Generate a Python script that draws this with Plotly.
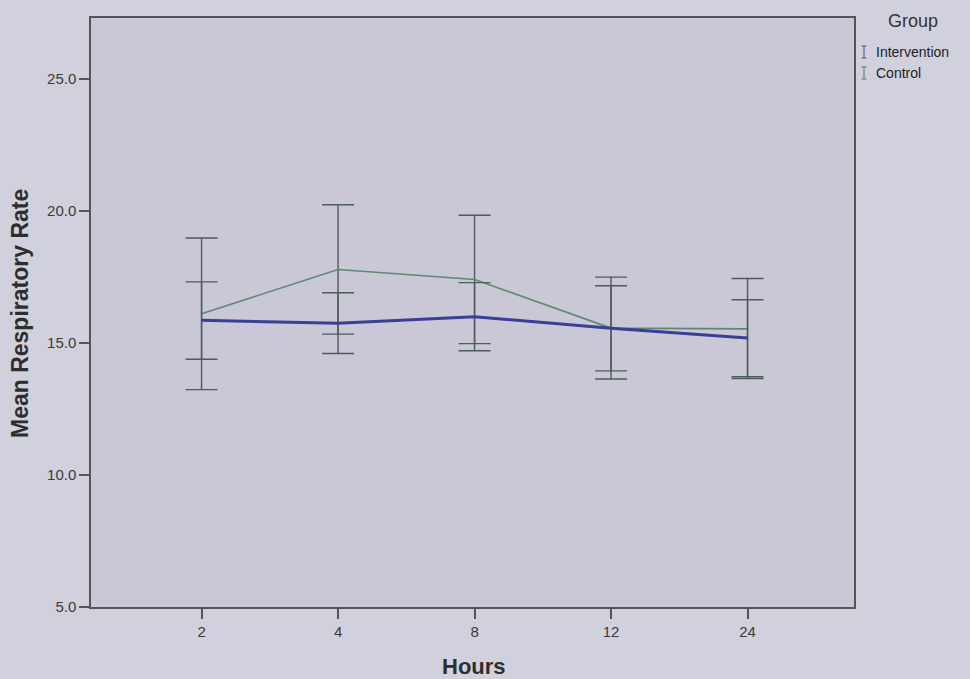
import plotly.graph_objects as go

hours = ["2", "4", "8", "12", "24"]
intervention_mean = [15.86, 15.74, 15.99, 15.55, 15.18]
intervention_upper = [17.31, 16.90, 17.28, 17.16, 16.63]
intervention_lower = [14.38, 14.60, 14.70, 13.94, 13.72]
control_mean = [16.10, 17.78, 17.40, 15.56, 15.53]
control_upper = [18.97, 20.23, 19.83, 17.49, 17.44]
control_lower = [13.23, 15.33, 14.97, 13.63, 13.65]
y_ticks = [5.0, 10.0, 15.0, 20.0, 25.0]

xpos = list(range(len(hours)))
err_color = "#4c5c58"

W, H = 970, 679
ML, MR, MT, MB = 91, 116, 18, 72

fig = go.Figure()

def add_series(name, mean, upper, lower, color, width):
    fig.add_trace(go.Scatter(
        x=xpos, y=mean, mode="lines", name=name,
        line=dict(color=color, width=width),
        error_y=dict(type="data", symmetric=False,
                     array=[u - m for u, m in zip(upper, mean)],
                     arrayminus=[m - l for m, l in zip(mean, lower)],
                     color=err_color, thickness=1.4, width=16),
        showlegend=False,
    ))

add_series("Control", control_mean, control_upper, control_lower, "#5f8872", 1.6)
add_series("Intervention", intervention_mean, intervention_upper, intervention_lower, "#3b3e96", 3)

font_family = "Liberation Sans, Arial, sans-serif"

fig.update_layout(
    width=W, height=H,
    margin=dict(l=ML, r=MR, t=MT, b=MB),
    paper_bgcolor="#d0d1dd",
    plot_bgcolor="#cac7d7",
    font=dict(family=font_family, color="#333333", size=15),
    xaxis=dict(
        range=[-0.81, 4.78], tickmode="array", tickvals=xpos, ticktext=hours,
        showgrid=False, zeroline=False, showline=True, mirror=True,
        linecolor="#555555", linewidth=1.5, automargin=False,
        ticks="outside", ticklen=10, tickcolor="#555555", tickwidth=1.5,
        tickfont=dict(size=15, color="#3a3a3a"),
    ),
    yaxis=dict(
        range=[5.0, 27.3], tickmode="array", tickvals=y_ticks,
        ticktext=[f"{v:.1f}" for v in y_ticks],
        showgrid=False, zeroline=False, showline=True, mirror=True,
        linecolor="#555555", linewidth=1.5, automargin=False,
        ticks="outside", ticklen=10, tickcolor="#555555", tickwidth=1.5,
        tickfont=dict(size=15, color="#3a3a3a"),
    ),
)

def px_to_paper_x(px):
    return (px - ML) / (W - ML - MR)

def px_to_paper_y(py):
    return 1 - (py - MT) / (H - MT - MB)

# axis titles
fig.add_annotation(x=px_to_paper_x(474), y=px_to_paper_y(666), xref="paper", yref="paper",
                   xanchor="center", yanchor="middle", showarrow=False,
                   text="<b>Hours</b>", font=dict(size=22, color="#2e2e2e"))
fig.add_annotation(x=px_to_paper_x(20), y=px_to_paper_y(314), xref="paper", yref="paper",
                   xanchor="center", yanchor="middle", showarrow=False, textangle=-90,
                   text="<b>Mean Respiratory Rate</b>", font=dict(size=23, color="#2e2e2e"))

# legend
fig.add_annotation(x=px_to_paper_x(913), y=px_to_paper_y(21), xref="paper", yref="paper",
                   xanchor="center", yanchor="middle",
                   text="Group", showarrow=False, font=dict(size=18, color="#333333"))
legend_items = [("Intervention", "#5a6290", 52), ("Control", "#6a8577", 73)]
for label, col, ypix in legend_items:
    fig.add_annotation(x=px_to_paper_x(874), y=px_to_paper_y(ypix), xref="paper", yref="paper",
                       xanchor="left", yanchor="middle", text=label, showarrow=False,
                       font=dict(size=14, color="#222222"))
    xc = px_to_paper_x(864)
    dx = 2.5 / (W - ML - MR)
    y0 = px_to_paper_y(ypix - 6)
    y1 = px_to_paper_y(ypix + 6)
    for (a, b, c, d) in [(xc, xc, y0, y1), (xc - dx, xc + dx, y0, y0), (xc - dx, xc + dx, y1, y1)]:
        fig.add_shape(type="line", xref="paper", yref="paper", x0=a, x1=b, y0=c, y1=d,
                      line=dict(color=col, width=1.2))

fig.write_html("out.html",
               config={"displayModeBar": False},
               post_script="document.body.style.margin='0px';document.body.style.background='#d0d1dd';")
